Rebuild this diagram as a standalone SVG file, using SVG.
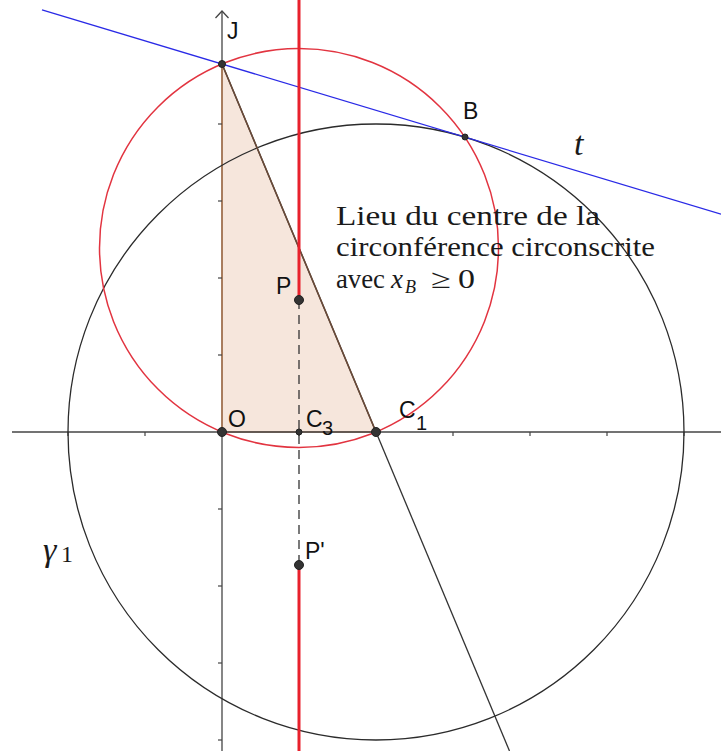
<svg xmlns="http://www.w3.org/2000/svg" width="721" height="751" viewBox="0 0 721 751">
<style>
.axis{stroke:#444;stroke-width:1.3;fill:none}
.tick{stroke:#444;stroke-width:1.2}
.lbl{font-family:"Liberation Sans","DejaVu Sans",sans-serif;font-size:23px;fill:#111}
.sub{font-family:"Liberation Sans","DejaVu Sans",sans-serif;font-size:20px;fill:#111}
.serif{font-family:"Liberation Serif","DejaVu Serif",serif;fill:#1a1a1a}
.pt{fill:#333;stroke:#222;stroke-width:1}
</style>
<rect width="721" height="751" fill="#ffffff"/>
<g id="triangle">
  <polygon points="222,432 376,432 222,64" fill="#f6e6dc" stroke="none"/>
  <line x1="222" y1="432" x2="376" y2="432" stroke="#b07a58" stroke-width="1.6"/>
  <line x1="222" y1="432" x2="222" y2="64" stroke="#a0704f" stroke-width="1.8"/>
</g>
<g id="axes">
  <line class="axis" x1="12" y1="432" x2="721" y2="432"/>
  <line class="axis" x1="222" y1="11" x2="222" y2="64"/>
  <line class="axis" x1="222" y1="432" x2="222" y2="751"/>
  <polyline class="axis" points="215.5,18 222,11 228.5,18"/>
  <g id="xticks">
    <line class="tick" x1="68" y1="432" x2="68" y2="436"/>
    <line class="tick" x1="145" y1="432" x2="145" y2="436"/>
    <line class="tick" x1="299" y1="432" x2="299" y2="436"/>
    <line class="tick" x1="453" y1="432" x2="453" y2="436"/>
    <line class="tick" x1="530" y1="432" x2="530" y2="436"/>
    <line class="tick" x1="607" y1="432" x2="607" y2="436"/>
    <line class="tick" x1="684" y1="432" x2="684" y2="436"/>
  </g>
  <g id="yticks">
    <line class="tick" x1="218" y1="124" x2="222" y2="124"/>
    <line class="tick" x1="218" y1="201" x2="222" y2="201"/>
    <line class="tick" x1="218" y1="278" x2="222" y2="278"/>
    <line class="tick" x1="218" y1="355" x2="222" y2="355"/>
    <line class="tick" x1="218" y1="509" x2="222" y2="509"/>
    <line class="tick" x1="218" y1="586" x2="222" y2="586"/>
    <line class="tick" x1="218" y1="663" x2="222" y2="663"/>
    <line class="tick" x1="218" y1="740" x2="222" y2="740"/>
  </g>
</g>
<g id="gamma1">
  <circle cx="376" cy="432" r="308" fill="none" stroke="#2b2b2b" stroke-width="1.3"/>
</g>
<g id="circumcircle">
  <circle cx="299" cy="248" r="199.5" fill="none" stroke="#e23440" stroke-width="1.5"/>
</g>
<g id="connectors">
  <line id="JC1" x1="222" y1="64" x2="509.5" y2="751" stroke="#333" stroke-width="1.3"/>
  <line id="hyp" x1="222" y1="64" x2="376" y2="432" stroke="#6a4a38" stroke-width="1.6"/>
  <line id="tangent" x1="42" y1="9.8" x2="721" y2="214.2" stroke="#2a2ae6" stroke-width="1.3"/>
  <line id="locus-top" x1="299" y1="0" x2="299" y2="300" stroke="#e8212c" stroke-width="3"/>
  <line id="locus-bottom" x1="299" y1="565" x2="299" y2="751" stroke="#e8212c" stroke-width="3"/>
  <line id="dashed" x1="299" y1="300" x2="299" y2="565" stroke="#333" stroke-width="1.3" stroke-dasharray="9,6"/>
</g>
<g id="points">
  <circle id="pt-O" class="pt" cx="222" cy="432" r="4.5"/>
  <circle id="pt-C1" class="pt" cx="376" cy="432" r="4.5"/>
  <circle id="pt-C3" class="pt" cx="299" cy="432" r="3"/>
  <circle id="pt-P" class="pt" cx="299" cy="300" r="4.5"/>
  <circle id="pt-P2" class="pt" cx="299" cy="565" r="4.5"/>
  <circle id="pt-J" class="pt" cx="222" cy="64" r="3.5"/>
  <circle id="pt-B" class="pt" cx="465" cy="137" r="3"/>
</g>
<g id="labels">
  <text class="lbl" x="227" y="39">J</text>
  <text class="lbl" x="463" y="119">B</text>
  <text class="lbl" x="276" y="294">P</text>
  <text class="lbl" x="228" y="427">O</text>
  <text class="lbl" x="306" y="427">C</text><text class="sub" x="322" y="435">3</text>
  <text class="lbl" x="399" y="418">C</text><text class="sub" x="416" y="430">1</text>
  <text class="lbl" x="305" y="559">P'</text>
  <text class="serif" x="574" y="155" font-size="34" font-style="italic">t</text>
  <text class="serif" x="43" y="561" font-size="34" font-style="italic">γ</text>
  <text class="serif" x="61" y="562" font-size="24">1</text>
  <g id="caption" class="serif" font-size="27">
    <text x="336" y="225" textLength="264" lengthAdjust="spacingAndGlyphs">Lieu du centre de la</text>
    <text x="336" y="256" textLength="319" lengthAdjust="spacingAndGlyphs">circonférence circonscrite</text>
    <text x="336" y="288" textLength="49" lengthAdjust="spacingAndGlyphs">avec</text>
    <text x="391" y="288" font-style="italic">x</text>
    <text x="405" y="293" font-size="18" font-style="italic">B</text>
    <text x="431" y="288" textLength="20" lengthAdjust="spacingAndGlyphs">≥</text>
    <text x="458" y="288" textLength="17" lengthAdjust="spacingAndGlyphs">0</text>
  </g>
</g>
</svg>
